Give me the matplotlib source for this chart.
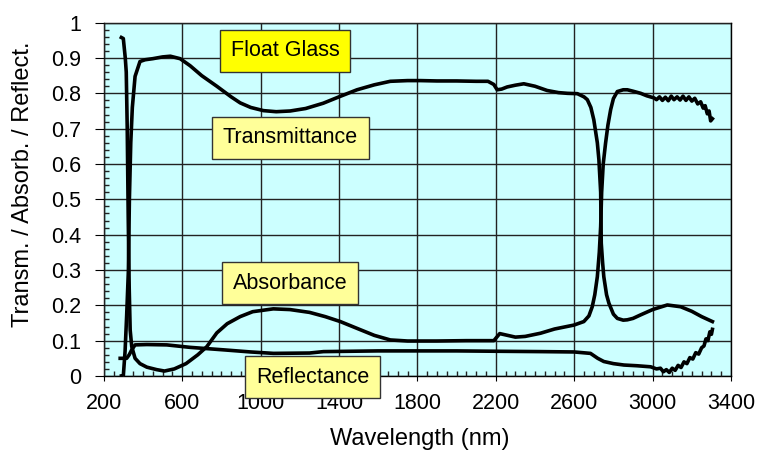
import matplotlib
matplotlib.use('Agg')
import matplotlib.pyplot as plt
import numpy as np

plt.rcParams['font.family'] = ['Liberation Sans', 'DejaVu Sans']

# transmittance
wl_t = [290, 300, 309, 317, 326, 331, 338, 346, 360, 385, 411, 450, 500, 540, 590,
        641, 700, 777, 850, 896, 950, 1015, 1080, 1151, 1230, 1320, 1400, 1492, 1580,
        1662, 1750, 1815, 1900, 2000, 2100, 2160, 2190, 2207, 2230, 2258, 2300, 2343,
        2400, 2462, 2520, 2565, 2616, 2650, 2667, 2685, 2700, 2718, 2726, 2735, 2738,
        2745, 2751, 2765, 2777, 2800, 2820, 2850, 2871, 2900, 2939, 3000, 3075, 3143,
        3200, 3250, 3305]
trans = [0, 0, 0.07, 0.17, 0.30, 0.50, 0.66, 0.76, 0.848, 0.89, 0.895, 0.898, 0.903,
         0.905, 0.898, 0.878, 0.85, 0.82, 0.79, 0.773, 0.76, 0.751, 0.748, 0.75, 0.757,
         0.772, 0.79, 0.81, 0.824, 0.834, 0.836, 0.836, 0.835, 0.835, 0.834, 0.834,
         0.825, 0.81, 0.812, 0.818, 0.823, 0.827, 0.82, 0.808, 0.802, 0.80, 0.799, 0.79,
         0.782, 0.76, 0.725, 0.66, 0.612, 0.52, 0.376, 0.32, 0.281, 0.23, 0.206, 0.175,
         0.163, 0.158, 0.159, 0.163, 0.173, 0.188, 0.201, 0.196, 0.183, 0.168, 0.154]

# absorbance
wl_a = [290, 300, 310, 315, 320, 325, 330, 335, 343, 360, 385, 420, 470, 510, 560,
        620, 680, 726, 777, 830, 896, 960, 1065, 1150, 1250, 1330, 1407, 1500, 1580,
        1662, 1750, 1900, 2050, 2190, 2220, 2260, 2300, 2350, 2428, 2500, 2598, 2649,
        2675, 2692, 2705, 2718, 2728, 2735, 2740, 2748, 2760, 2772, 2786, 2800, 2820,
        2850, 2871, 2900, 2939, 2970, 3007, 3020, 3035, 3050, 3065, 3080, 3095, 3109,
        3125, 3140, 3155, 3170, 3185, 3200, 3215, 3230, 3245, 3258, 3268, 3279, 3288,
        3296, 3305]
absorb = [0.958, 0.955, 0.90, 0.86, 0.70, 0.45, 0.25, 0.13, 0.083, 0.05, 0.035, 0.025,
          0.018, 0.014, 0.02, 0.035, 0.06, 0.083, 0.122, 0.148, 0.168, 0.182, 0.19,
          0.188, 0.18, 0.168, 0.154, 0.133, 0.115, 0.102, 0.099, 0.099, 0.1, 0.1, 0.12,
          0.115, 0.11, 0.112, 0.121, 0.133, 0.144, 0.154, 0.17, 0.196, 0.23, 0.281,
          0.35, 0.423, 0.52, 0.6, 0.659, 0.71, 0.754, 0.785, 0.805, 0.81, 0.81, 0.806,
          0.80, 0.793, 0.787, 0.782, 0.79, 0.78, 0.789, 0.779, 0.792, 0.782, 0.79,
          0.781, 0.792, 0.78, 0.79, 0.778, 0.786, 0.77, 0.776, 0.758, 0.765, 0.742,
          0.75, 0.722, 0.728]

# reflectance
wl_r = [284, 317, 330, 343, 360, 420, 522, 641, 811, 950, 1066, 1250, 1321, 1600,
        2000, 2200, 2428, 2600, 2683, 2720, 2751, 2800, 2854, 2920, 2990, 3020, 3040,
        3055, 3070, 3085, 3100, 3115, 3130, 3145, 3160, 3175, 3190, 3205, 3220, 3235,
        3250, 3262, 3272, 3282, 3292, 3300, 3305]
reflect = [0.05, 0.05, 0.06, 0.074, 0.088, 0.089, 0.088, 0.081, 0.074, 0.068, 0.064,
           0.065, 0.069, 0.071, 0.071, 0.07, 0.069, 0.068, 0.064, 0.05, 0.041, 0.035,
           0.031, 0.029, 0.026, 0.02, 0.022, 0.012, 0.018, 0.01, 0.022, 0.016, 0.03,
           0.024, 0.04, 0.035, 0.052, 0.048, 0.066, 0.062, 0.08, 0.085, 0.105, 0.1,
           0.125, 0.118, 0.132]

xticks = [200, 600, 1000, 1400, 1800, 2200, 2600, 3000, 3400]
yticks = [0, 0.1, 0.2, 0.3, 0.4, 0.5, 0.6, 0.7, 0.8, 0.9, 1]
ytick_labels = ['0', '0.1', '0.2', '0.3', '0.4', '0.5', '0.6', '0.7', '0.8', '0.9', '1']

fig = plt.figure(figsize=(7.57, 4.53), dpi=100)
ax = fig.add_axes([0.137, 0.17, 0.8287, 0.78])
ax.set_facecolor('#CCFFFF')

for wl, vals in [(wl_t, trans), (wl_a, absorb), (wl_r, reflect)]:
    ax.plot(wl, vals, color='black', lw=2.6, zorder=3, solid_joinstyle='round')

ax.set_xlim(200, 3400)
ax.set_ylim(0, 1)
ax.set_xticks(xticks)
ax.set_yticks(yticks)
ax.set_yticklabels(ytick_labels)
ax.set_xticks(np.arange(200, 3401, 50), minor=True)
ax.set_yticks(np.arange(0, 1.001, 0.02), minor=True)
ax.grid(True, which='major', color='#222222', lw=1.0, zorder=1)
ax.set_axisbelow(False)

ax.tick_params(axis='both', which='major', direction='out', labelsize=15.5, colors='black')
ax.tick_params(axis='y', which='major', length=6.5, pad=10)
ax.tick_params(axis='x', which='major', length=3.6, pad=9)
ax.tick_params(axis='both', which='minor', direction='in', length=3.8, width=1.0,
               color='#222222')

for s in ax.spines.values():
    s.set_color('black')
    s.set_linewidth(1.0)

ax.set_ylabel('Transm. / Absorb. / Reflect.', fontsize=17)
ax.set_xlabel('Wavelength (nm)', fontsize=17)
ax.yaxis.set_label_coords(-0.111, 0.543)
ax.xaxis.set_label_coords(0.504, -0.146)

box_kw = dict(boxstyle='square,pad=0.5', edgecolor='#333333', lw=1.0)
ax.text(1126, 0.92, 'Float Glass', fontsize=15.5, ha='center', va='center',
        bbox=dict(facecolor='#FFFF00', **box_kw), zorder=5)
ax.text(1152, 0.674, 'Transmittance', fontsize=15.5, ha='center', va='center',
        bbox=dict(facecolor='#FFFF99', **box_kw), zorder=5)
ax.text(1150, 0.263, 'Absorbance', fontsize=15.5, ha='center', va='center',
        bbox=dict(facecolor='#FFFF99', **box_kw), zorder=5)
ax.text(1266, -0.003, 'Reflectance', fontsize=15.5, ha='center', va='center',
        bbox=dict(facecolor='#FFFF99', **box_kw), zorder=5, clip_on=False)

fig.savefig('out.png', dpi=100)
